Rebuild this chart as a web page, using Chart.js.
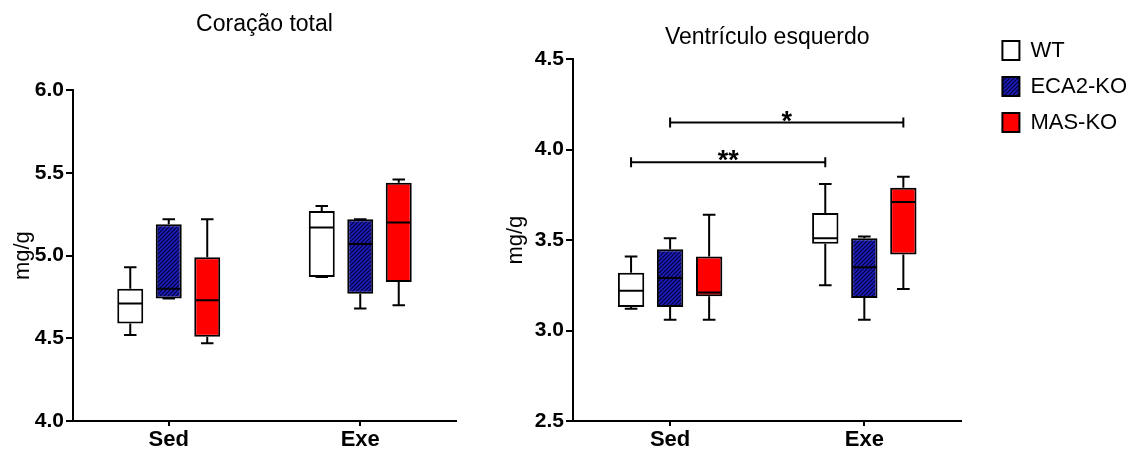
<!DOCTYPE html>
<html>
<head>
<meta charset="utf-8">
<script src="https://cdn.jsdelivr.net/npm/chart.js@4.4.0/dist/chart.umd.min.js"></script>
<style>
  body { margin: 0; background: #fff; width: 1136px; height: 450px; overflow: hidden; position: relative; }
  canvas { position: absolute; top: 0; }
  #totalChart { left: 0; }
  #ventChart { left: 500px; }
</style>
</head>
<body>
<canvas id="totalChart" width="460" height="450"></canvas>
<canvas id="ventChart" width="640" height="450"></canvas>
<script>
const groups = ["Sed", "Exe"];
const seriesNames = ["WT", "ECA2-KO", "MAS-KO"];

// each group: [min, q1, median, q3, max]
const totalWT   = [[4.52, 4.59, 4.71, 4.80, 4.93], [4.87, 4.87, 5.17, 5.27, 5.30]];
const totalECA2 = [[4.74, 4.74, 4.80, 5.19, 5.22], [4.68, 4.77, 5.07, 5.22, 5.22]];
const totalMAS  = [[4.47, 4.51, 4.73, 4.99, 5.22], [4.70, 4.84, 5.20, 5.44, 5.46]];

const ventWT   = [[3.12, 3.13, 3.22, 3.32, 3.41], [3.25, 3.48, 3.51, 3.65, 3.81]];
const ventECA2 = [[3.06, 3.13, 3.29, 3.45, 3.51], [3.06, 3.18, 3.35, 3.51, 3.52]];
const ventMAS  = [[3.06, 3.19, 3.21, 3.41, 3.64], [3.23, 3.42, 3.71, 3.79, 3.85]];

const totalTicks = [4.0, 4.5, 5.0, 5.5, 6.0];
const ventTicks = [2.5, 3.0, 3.5, 4.0, 4.5];

// significance brackets: [series, group] -> [series, group]
const ventSig = [
  { from: [0, 0], to: [0, 1], y: 3.93, label: "**" },
  { from: [1, 0], to: [2, 1], y: 4.15, label: "*" }
];

const FONT = "'Liberation Sans', Arial, sans-serif";
Chart.defaults.font.family = FONT;
Chart.defaults.color = "#000";

function hatch() {
  const c = document.createElement("canvas");
  c.width = 4; c.height = 4;
  const g = c.getContext("2d");
  g.fillStyle = "#1e1eb8";
  g.fillRect(0, 0, 4, 4);
  g.strokeStyle = "#000038";
  g.lineWidth = 1.1;
  g.beginPath();
  g.moveTo(0, 4); g.lineTo(4, 0);
  g.moveTo(-1, 1); g.lineTo(1, -1);
  g.moveTo(3, 5); g.lineTo(5, 3);
  g.stroke();
  return g.createPattern(c, "repeat");
}
const colors = ["#ffffff", hatch(), "#ff0000"];

function boxPlugin(stats, sig) {
  return {
    id: "boxWhiskers",
    afterDatasetsDraw(chart) {
      const ctx = chart.ctx;
      const y = chart.scales.y;
      const p = v => y.getPixelForValue(v);
      ctx.save();
      ctx.strokeStyle = "#000";
      ctx.lineWidth = 2;
      stats.forEach((series, i) => {
        chart.getDatasetMeta(i).data.forEach((bar, j) => {
          const [mn, q1, md, q3, mx] = series[j];
          const x = bar.x, hw = bar.width / 2, cw = bar.width * 0.24;
          ctx.beginPath();
          ctx.moveTo(x, p(q3)); ctx.lineTo(x, p(mx));
          ctx.moveTo(x - cw, p(mx)); ctx.lineTo(x + cw, p(mx));
          ctx.moveTo(x, p(q1)); ctx.lineTo(x, p(mn));
          ctx.moveTo(x - cw, p(mn)); ctx.lineTo(x + cw, p(mn));
          ctx.moveTo(x - hw + 1, p(md)); ctx.lineTo(x + hw - 1, p(md));
          ctx.stroke();
        });
      });
      sig.forEach(s => {
        const x1 = chart.getDatasetMeta(s.from[0]).data[s.from[1]].x;
        const x2 = chart.getDatasetMeta(s.to[0]).data[s.to[1]].x;
        const yy = p(s.y);
        ctx.beginPath();
        ctx.moveTo(x1, yy); ctx.lineTo(x2, yy);
        ctx.moveTo(x1, yy - 5); ctx.lineTo(x1, yy + 5);
        ctx.moveTo(x2, yy - 5); ctx.lineTo(x2, yy + 5);
        ctx.stroke();
        ctx.fillStyle = "#000";
        ctx.font = "bold 27px " + FONT;
        ctx.textAlign = "center";
        ctx.textBaseline = "alphabetic";
        ctx.fillText(s.label, (x1 + x2) / 2, yy + 7);
      });
      ctx.restore();
    }
  };
}

function makeChart(el, title, stats, ticks, sig, o) {
  const plugins = {
    title: {
      display: true, text: title, fullSize: false,
      font: { size: 23, weight: "normal" },
      padding: { top: o.titleTop, bottom: o.titleBottom }
    },
    legend: { display: false },
    tooltip: { enabled: false }
  };
  if (o.legend) {
    plugins.legend = {
      display: true, position: "right", align: "start", maxWidth: 220,
      title: { display: true, text: " ", font: { size: 10, lineHeight: 1 }, padding: { top: 15.5, bottom: 0 } },
      labels: { boxWidth: 17, boxHeight: 19, padding: 14, font: { size: 22 }, color: "#000" }
    };
  }
  const scales = {
    x: {
      grid: { display: true, drawOnChartArea: false, drawTicks: true, tickLength: 5, offset: false, color: "#000", lineWidth: 2 },
      border: { display: true, color: "#000", width: 2 },
      ticks: { font: { size: 22, weight: "bold" }, padding: 1 },
      afterFit: s => { s.height = 29; }
    },
    y: {
      min: ticks[0], max: ticks[ticks.length - 1],
      afterBuildTicks: s => { s.ticks = ticks.map(v => ({ value: v })); },
      grid: { display: true, drawOnChartArea: false, drawTicks: true, tickLength: 7, color: "#000", lineWidth: 2 },
      border: { display: true, color: "#000", width: 2 },
      ticks: { font: { size: 21, weight: "bold" }, padding: 2, callback: v => v.toFixed(1) },
      title: { display: true, text: "mg/g", font: { size: 22, weight: "normal" }, padding: { top: o.yTitlePad, bottom: 0 } },
      afterFit: s => { s.width = 73; }
    }
  };
  if (o.gap) {
    scales.y2 = {
      position: "right", display: true,
      grid: { display: false }, border: { display: false }, ticks: { display: false },
      afterFit: s => { s.width = o.gap; }
    };
  }
  return new Chart(el, {
    type: "bar",
    data: {
      labels: groups,
      datasets: stats.map((s, i) => ({
        label: seriesNames[i],
        data: s.map(g => [g[1], g[3]]),
        yAxisID: "y",
        backgroundColor: colors[i],
        borderColor: "#000",
        borderWidth: 2,
        borderSkipped: false,
        categoryPercentage: 0.603,
        barPercentage: 0.675
      }))
    },
    options: {
      responsive: false,
      animation: false,
      layout: { padding: { left: 0, right: o.padRight, top: 0, bottom: 0 } },
      plugins: plugins,
      scales: scales
    },
    plugins: [boxPlugin(stats, sig)]
  });
}

makeChart(document.getElementById("totalChart"), "Coração total",
  [totalWT, totalECA2, totalMAS], totalTicks, [],
  { titleTop: 10.8, titleBottom: 51.8, yTitlePad: 9.8, padRight: 4 });

makeChart(document.getElementById("ventChart"), "Ventrículo esquerdo",
  [ventWT, ventECA2, ventMAS], ventTicks, ventSig,
  { titleTop: 24.3, titleBottom: 7.3, yTitlePad: 2.8, padRight: 3, legend: true, gap: 27 });
</script>
</body>
</html>
